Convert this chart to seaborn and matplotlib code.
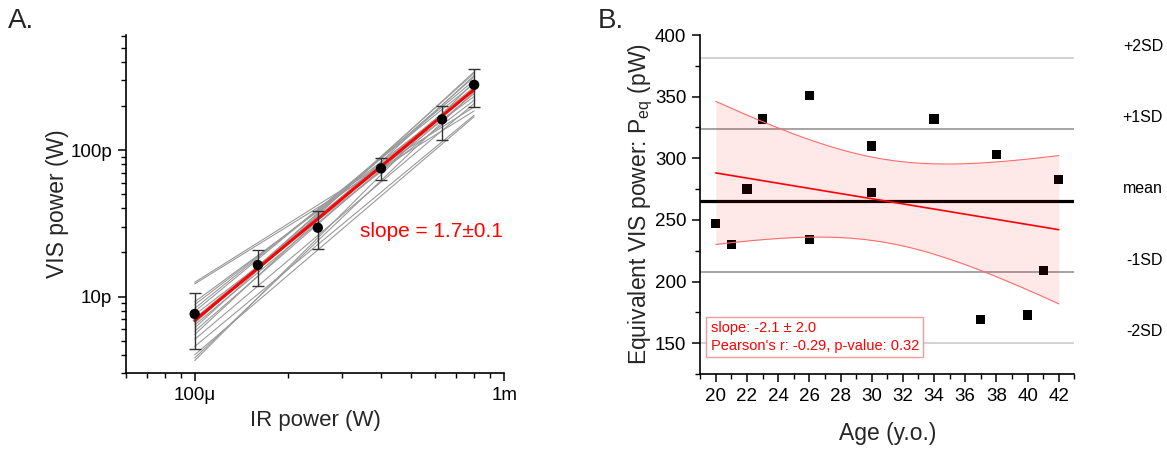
import numpy as np
import pandas as pd
import matplotlib
matplotlib.use("Agg")
import matplotlib.pyplot as plt
import matplotlib.ticker as mticker
import matplotlib.transforms as mtrans
import seaborn as sns

# ---------------- data: panel A ----------------
ir_power = [1.0e-4, 1.6e-4, 2.5e-4, 4.0e-4, 6.3e-4, 8.0e-4]
vis_mean = [7.6e-12, 16.4e-12, 29.5e-12, 75e-12, 162e-12, 279e-12]
vis_err_lo = [4.4e-12, 11.8e-12, 21.0e-12, 62.4e-12, 118e-12, 197e-12]
vis_err_hi = [10.6e-12, 20.8e-12, 38.6e-12, 88e-12, 200e-12, 360e-12]

subj_x = [1.0e-4, 8.0e-4]
subj_start = [12.5, 12.2, 9.2, 8.8, 8.3, 7.9, 7.5, 7.1, 6.75, 6.4, 6.1, 5.8,
              5.5, 5.1, 4.56, 4.0, 3.65, 3.8, 6.6]
subj_end = [197, 185, 232, 255, 284, 299, 219, 270, 316, 243, 342, 264,
            323, 208, 173, 169, 292, 250, 335]

fit_x = [1.0e-4, 8.0e-4]
fit_y = [6.86e-12, 2.59e-10]

# ---------------- data: panel B ----------------
age = [20, 21, 22, 23, 26, 26, 30, 30, 34, 37, 38, 40, 41, 42]
peq = [247, 230, 275, 332, 351, 234, 310, 272, 332, 169, 303, 173, 209, 283]
T_975_DF12 = 2.179
sd_names = ["+2SD", "+1SD", "mean", "-1SD", "-2SD"]
sd_mult = [2, 1, 0, -1, -2]

# ---------------- style ----------------
sns.set_theme(style="ticks")
plt.rcParams["font.family"] = ["Liberation Sans", "DejaVu Sans"]
plt.rcParams["axes.linewidth"] = 1.2
plt.rcParams["xtick.major.width"] = 1.1
plt.rcParams["ytick.major.width"] = 1.1
plt.rcParams["xtick.minor.width"] = 1.0
plt.rcParams["ytick.minor.width"] = 1.0
plt.rcParams["xtick.color"] = "black"
plt.rcParams["ytick.color"] = "black"
plt.rcParams["axes.edgecolor"] = "black"

fig = plt.figure(figsize=(11.67, 4.49), dpi=100)
axA = fig.add_axes([0.108, 0.169, 0.324, 0.753])
axB = fig.add_axes([0.600, 0.167, 0.3206, 0.755])

# ---------------- panel A ----------------
rows = []
for i, (s, e) in enumerate(zip(subj_start, subj_end)):
    rows.append({"subj": i, "x": subj_x[0], "y": s * 1e-12})
    rows.append({"subj": i, "x": subj_x[1], "y": e * 1e-12})
df_subj = pd.DataFrame(rows)
sns.lineplot(data=df_subj, x="x", y="y", units="subj", estimator=None,
             color="#9a9a9a", lw=0.8, ax=axA, legend=False, zorder=1)
sns.lineplot(x=fit_x, y=fit_y, color="#ff0000", lw=2.2, ax=axA, zorder=3)
vm = np.array(vis_mean)
yerr = [vm - np.array(vis_err_lo), np.array(vis_err_hi) - vm]
axA.errorbar(ir_power, vis_mean, yerr=yerr, fmt="none", ecolor="#333333",
             elinewidth=1.0, capsize=4, capthick=1.0, zorder=4)
sns.scatterplot(x=ir_power, y=vis_mean, color="black", s=55, edgecolor="none",
                ax=axA, zorder=5)
axA.set_xscale("log")
axA.set_yscale("log")
axA.set_xlim(6.0e-5, 1.0e-3)
axA.set_ylim(3.0e-12, 6.1e-10)
axA.xaxis.set_major_locator(mticker.FixedLocator([1e-4, 1e-3]))
axA.xaxis.set_major_formatter(mticker.FixedFormatter(["100μ", "1m"]))
axA.yaxis.set_major_locator(mticker.FixedLocator([1e-11, 1e-10]))
axA.yaxis.set_major_formatter(mticker.FixedFormatter(["10p", "100p"]))
axA.xaxis.set_minor_locator(mticker.LogLocator(base=10, subs=np.arange(2, 10)))
axA.yaxis.set_minor_locator(mticker.LogLocator(base=10, subs=np.arange(2, 10)))
axA.xaxis.set_minor_formatter(mticker.NullFormatter())
axA.yaxis.set_minor_formatter(mticker.NullFormatter())
axA.tick_params(which="major", direction="out", length=6, labelsize=13.5, pad=4)
axA.tick_params(which="minor", direction="out", length=3.5)
axA.set_xlabel("IR power (W)", fontsize=16, labelpad=4)
axA.set_ylabel("VIS power (W)", fontsize=16.5, labelpad=1)
sns.despine(ax=axA)
axA.text(3.43e-4, 27.6e-12, "slope = 1.7±0.1", color="#ff0000", fontsize=15,
         ha="left", va="center")

# ---------------- panel B ----------------
xa = np.array(age, dtype=float)
ya = np.array(peq, dtype=float)
mean = ya.mean()
sd = ya.std(ddof=1)
for name, m in zip(sd_names, sd_mult):
    if m == 0:
        axB.axhline(mean, color="black", lw=2.3, zorder=2)
    elif abs(m) == 1:
        axB.axhline(mean + m * sd, color="#8c8c8c", lw=1.1, zorder=1)
    else:
        axB.axhline(mean + m * sd, color="#cfcfcf", lw=1.3, zorder=1)

sns.scatterplot(x=age, y=peq, marker="s", color="black", s=45,
                edgecolor="none", ax=axB, zorder=3)

# linear fit and 95% confidence band of the mean
slope, icpt = np.polyfit(xa, ya, 1)
xs = np.linspace(xa.min(), xa.max(), 100)
yfit = icpt + slope * xs
resid = ya - (icpt + slope * xa)
s_res = np.sqrt(np.sum(resid ** 2) / (len(xa) - 2))
sxx = np.sum((xa - xa.mean()) ** 2)
half = T_975_DF12 * s_res * np.sqrt(1 / len(xa) + (xs - xa.mean()) ** 2 / sxx)
axB.fill_between(xs, yfit - half, yfit + half, color="#ff0000", alpha=0.09,
                 lw=0, zorder=4)
axB.plot(xs, yfit + half, color="#ff6a6a", lw=0.8, zorder=5)
axB.plot(xs, yfit - half, color="#ff6a6a", lw=0.8, zorder=5)
sns.regplot(x=xa, y=ya, ci=None, scatter=False, color="#ff0000",
            line_kws={"lw": 1.2, "zorder": 6}, ax=axB)

axB.set_xlim(19, 43)
axB.set_ylim(125, 400)
axB.xaxis.set_major_locator(mticker.MultipleLocator(2))
axB.xaxis.set_minor_locator(mticker.MultipleLocator(1))
axB.yaxis.set_major_locator(mticker.MultipleLocator(50))
axB.yaxis.set_minor_locator(mticker.MultipleLocator(25))
axB.tick_params(which="major", direction="out", length=6, labelsize=13.5, pad=4)
axB.tick_params(which="minor", direction="out", length=3.5)
axB.set_xlabel("Age (y.o.)", fontsize=16.5, labelpad=12)
axB.set_ylabel(r"Equivalent VIS power: P$_\mathregular{eq}$ (pW)", fontsize=16.5,
               labelpad=0)
sns.despine(ax=axB)

trans = mtrans.blended_transform_factory(fig.transFigure, axB.transData)
off = mtrans.offset_copy(trans, fig=fig, x=0, y=3, units="points")
for name, m in zip(sd_names, sd_mult):
    axB.text(0.9966, mean + m * sd, name, transform=off, ha="right",
             va="bottom", fontsize=11.5, color="black")

axB.text(0.028, 0.062, "slope: -2.1 ± 2.0\nPearson's r: -0.29, p-value: 0.32",
         transform=axB.transAxes, color="#ff0000", fontsize=10.5, ha="left",
         va="bottom", linespacing=1.35, zorder=7,
         bbox=dict(boxstyle="square,pad=0.3", fc="white", ec="#f49a9a", lw=1.0))

# panel letters
fig.text(0.007, 0.925, "A.", fontsize=20, ha="left", va="bottom")
fig.text(0.512, 0.925, "B.", fontsize=20, ha="left", va="bottom")

fig.savefig("out.png", dpi=100)
